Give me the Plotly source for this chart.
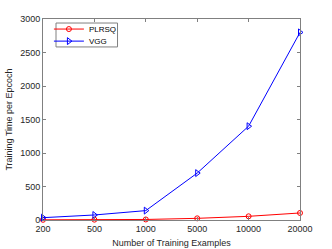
import plotly.graph_objects as go

categories = ["200", "500", "1000", "5000", "10000", "20000"]
plrsq = [3, 5, 8, 25, 55, 105]
vgg = [35, 75, 140, 700, 1400, 2800]
y_ticks = [0, 500, 1000, 1500, 2000, 2500, 3000]

FONT = "Liberation Sans, Arial"

fig = go.Figure()
fig.add_trace(go.Scatter(
    x=categories, y=plrsq, name="PLRSQ", mode="lines+markers",
    line=dict(color="#FF0000", width=1),
    marker=dict(symbol="circle-open", size=5, color="#FF0000", line=dict(width=1)),
    cliponaxis=False, legend="legend",
))
fig.add_trace(go.Scatter(
    x=categories, y=vgg, name="VGG", mode="lines+markers",
    line=dict(color="#0000FF", width=1),
    marker=dict(symbol="triangle-right-open", size=6, color="#0000FF", line=dict(width=1)),
    cliponaxis=False, legend="legend2",
))

axis_common = dict(
    showline=True, linecolor="#808080", linewidth=1, mirror="ticks",
    ticks="inside", ticklen=3, tickcolor="#808080", showgrid=False, zeroline=False,
    automargin=False,
    tickfont=dict(family=FONT, size=9, color="#262626"),
)

leg_common = dict(xanchor="left", yanchor="middle", bgcolor="rgba(0,0,0,0)",
                  borderwidth=0, font=dict(family=FONT, size=8, color="#000000"),
                  itemwidth=30)

fig.update_layout(
    width=332, height=249,
    margin=dict(l=43, r=32, t=19, b=29, autoexpand=False),
    paper_bgcolor="white", plot_bgcolor="white",
    xaxis=dict(type="category", range=[0, 5], tickvals=categories, ticktext=categories,
               title=dict(text="Number of Training Examples", standoff=6,
                          font=dict(family=FONT, size=9, color="#262626")),
               **axis_common),
    yaxis=dict(range=[0, 3000], tickvals=y_ticks,
               title=dict(text="Training Time per Epcoch", standoff=6,
                          font=dict(family=FONT, size=9, color="#262626")),
               **axis_common),
    legend=dict(x=0.023, y=0.95, **leg_common),
    legend2=dict(x=0.023, y=0.89, **leg_common),
    shapes=[dict(type="rect", xref="paper", yref="paper",
                 x0=0.0506, x1=0.290, y0=0.861, y1=0.980,
                 line=dict(color="#808080", width=1), fillcolor="white", layer="above")],
    showlegend=True,
)

fig.write_html("out.html", config={"displayModeBar": False},
               post_script="document.body.style.margin='0px';document.body.style.overflow='hidden';")
